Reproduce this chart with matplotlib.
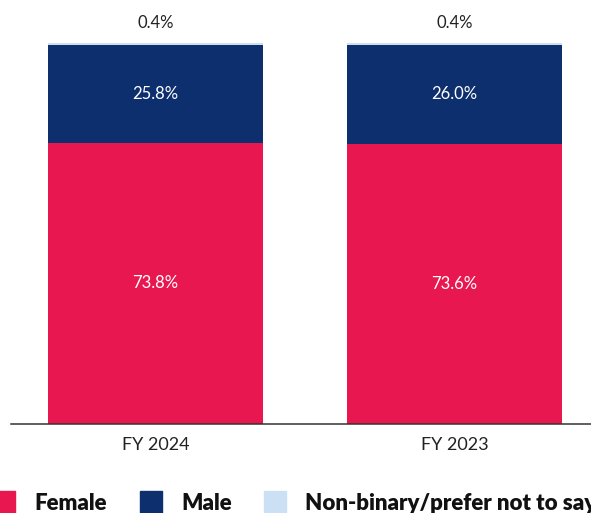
import matplotlib.pyplot as plt
from matplotlib.patches import Rectangle

# data
years = ['FY 2024', 'FY 2023']
female = [73.8, 73.6]
male = [25.8, 26.0]
nonbinary = [0.4, 0.4]

c_female = '#E8174F'
c_male = '#0E2F6E'
c_nb = '#CCE0F5'

fig = plt.figure(figsize=(5.91, 5.13), dpi=100)
ax = fig.add_axes([10.5 / 591, 89 / 513, 1 - 10.5 / 591, 424 / 513])

x = range(len(years))
w = 0.719
ax.bar(x, female, width=w, color=c_female)
ax.bar(x, male, width=w, bottom=female, color=c_male)
tops = [f + m for f, m in zip(female, male)]
ax.bar(x, nonbinary, width=w, bottom=tops, color=c_nb)

lbl = dict(fontsize=12, family='Lato', fontweight='normal')
for i in x:
    ax.text(i, female[i] / 2, f'{female[i]:.1f}%', ha='center', va='center',
            color='white', **lbl)
    ax.text(i, female[i] + male[i] / 2, f'{male[i]:.1f}%', ha='center', va='center',
            color='white', **lbl)
    ax.annotate(f'{nonbinary[i]:.1f}%', (i, tops[i] + nonbinary[i]), xytext=(0, 14.5),
                textcoords='offset points', ha='center', va='center',
                color='#222222', **lbl)

ax.set_xlim(-0.485, 1.4565)
ax.set_ylim(0, 111.3)
ax.set_xticks(list(x))
ax.set_xticklabels(years, fontsize=13, family='Lato', fontweight='normal', color='#222222')
ax.tick_params(axis='x', length=0, pad=9)
ax.set_yticks([])
for s in ['top', 'right', 'left']:
    ax.spines[s].set_visible(False)
ax.spines['bottom'].set_color('#333333')
ax.spines['bottom'].set_linewidth(1.1)

# legend drawn by hand so it runs off the edges like the original
items = [('Female', c_female, -7, 34), ('Male', c_male, 140, 181),
         ('Non-binary/prefer not to say', c_nb, 264, 305)]
for label, col, sx, tx in items:
    fig.patches.append(Rectangle((sx / 591, 0), 22 / 591, 22 / 513,
                                 transform=fig.transFigure, color=col))
    fig.text(tx / 591, (513 - 503) / 513, label, ha='left', va='center',
             fontsize=16, family='Lato', fontweight='heavy', color='#111111')

fig.savefig('out.png', dpi=100)
